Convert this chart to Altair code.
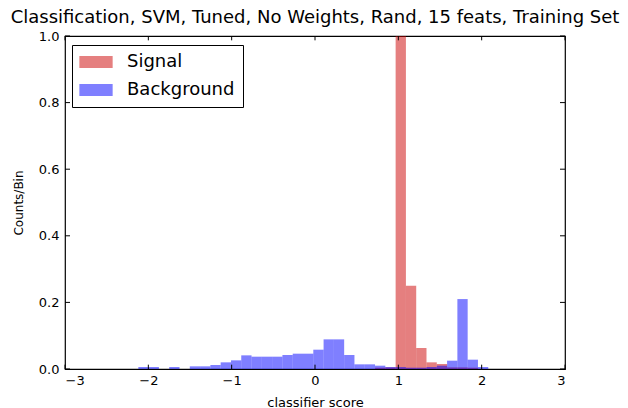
import altair as alt
import pandas as pd

# Histogram bin grid shared by both classes
bin_left = -2.12
bin_width = 0.1235
n_bins = 34
edges = [round(bin_left + i * bin_width, 4) for i in range(n_bins + 1)]

# Normalised counts per bin
signal = [0, 0, 0, 0, 0, 0, 0, 0, 0, 0,
          0, 0, 0, 0, 0, 0, 0, 0, 0, 0,
          0, 0, 0, 0.004, 0.005, 1.0, 0.25, 0.063, 0.02, 0.015,
          0.005, 0.005, 0.004, 0]
background = [0.006, 0.006, 0, 0.006, 0, 0.008, 0.008, 0.012, 0.02, 0.026,
              0.041, 0.037, 0.037, 0.037, 0.042, 0.046, 0.046, 0.058, 0.089, 0.089,
              0.042, 0.014, 0.014, 0.010, 0.006, 0.006, 0.004, 0.004, 0.006, 0.010,
              0.025, 0.21, 0.028, 0.006]

series_names = ["Signal", "Background"]
series_colors = ["#cc0000", "#0000ff"]

x_ticks = [-3, -2, -1, 0, 1, 2, 3]
y_ticks = [0.0, 0.2, 0.4, 0.6, 0.8, 1.0]

rows = []
for name, vals in zip(series_names, (signal, background)):
    for i, v in enumerate(vals):
        if v > 0:
            rows.append({"series": name, "x0": edges[i], "x1": edges[i + 1], "count": v})
df = pd.DataFrame(rows)

FONT = "DejaVu Sans"

x_scale = alt.Scale(domain=[-3, 3], nice=False, zero=False)
y_scale = alt.Scale(domain=[0, 1], nice=False)

bars = alt.Chart(df).mark_rect(opacity=0.5).encode(
    x=alt.X("x0:Q", scale=x_scale,
            axis=alt.Axis(values=x_ticks, format="d", title="classifier score",
                          domain=False, ticks=False, grid=False,
                          labelFontSize=13, labelPadding=5, labelColor="black",
                          titleFontSize=13, titleFontWeight="normal", titleColor="black",
                          titlePadding=9, labelFont=FONT, titleFont=FONT)),
    x2="x1:Q",
    y=alt.Y("count:Q", scale=y_scale,
            axis=alt.Axis(values=y_ticks, format=".1f", title="Counts/Bin",
                          domain=False, ticks=False, grid=False,
                          labelFontSize=13, labelPadding=6, labelColor="black",
                          titleFontSize=12, titleFontWeight="normal", titleColor="black",
                          titlePadding=13, labelFont=FONT, titleFont=FONT)),
    y2=alt.datum(0),
    color=alt.Color("series:N",
                    scale=alt.Scale(domain=series_names, range=series_colors),
                    legend=alt.Legend(orient="none", legendX=7, legendY=9, title=None,
                                      labelFontSize=18, labelFont=FONT, labelColor="black",
                                      symbolType="M-1.85,-0.67H1.85V0.67H-1.85Z",
                                      symbolSize=324, symbolOpacity=0.5,
                                      symbolStrokeWidth=0, symbolOffset=7,
                                      labelOffset=22,
                                      strokeColor="black", fillColor="white",
                                      padding=8, rowPadding=10)),
)

# Inward tick marks on all four sides of the frame
xt = pd.DataFrame({"t": x_ticks})
yt = pd.DataFrame({"t": y_ticks})
tick_len_x = 0.06
tick_len_y = 0.013

bottom_ticks = alt.Chart(xt).mark_rule(color="black").encode(
    x="t:Q", y=alt.datum(0), y2=alt.datum(tick_len_y))
top_ticks = alt.Chart(xt).mark_rule(color="black").encode(
    x="t:Q", y=alt.datum(1), y2=alt.datum(1 - tick_len_y))
left_ticks = alt.Chart(yt).mark_rule(color="black").encode(
    y="t:Q", x=alt.datum(-3), x2=alt.datum(-3 + tick_len_x))
right_ticks = alt.Chart(yt).mark_rule(color="black").encode(
    y="t:Q", x=alt.datum(3), x2=alt.datum(3 - tick_len_x))

chart = alt.layer(bars, bottom_ticks, top_ticks, left_ticks, right_ticks).properties(
    width=500,
    height=333,
    title=alt.TitleParams("Classification, SVM, Tuned, No Weights, Rand, 15 feats, Training Set",
                          fontSize=18, font=FONT, fontWeight="normal", color="black",
                          anchor="middle", frame="group", offset=3),
    autosize=alt.AutoSizeParams(type="none"),
    padding={"left": 65, "top": 36, "right": 63, "bottom": 39},
).configure(
    background="white",
    view=alt.ViewConfig(stroke="black", strokeWidth=1.2),
)

chart.save("out.html", embed_options={"renderer": "svg", "actions": False})
